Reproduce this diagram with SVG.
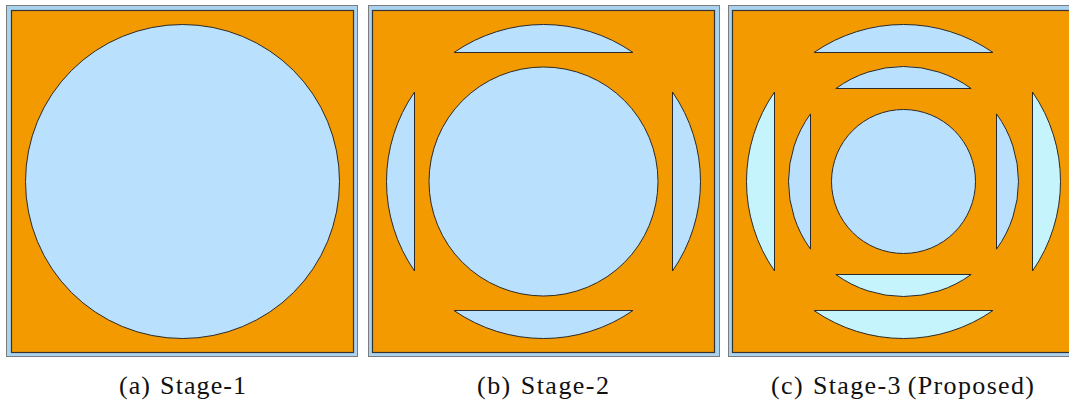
<svg xmlns="http://www.w3.org/2000/svg" xmlns:xlink="http://www.w3.org/1999/xlink" width="1069" height="406" viewBox="0 0 1069 406">
  <style>
    .frame { fill: #a9d3ee; stroke: #7c7c7c; stroke-width: 1; }
    .plate { fill: #f39a00; stroke: #333333; stroke-width: 1.2; }
    .cut { stroke: #2a2a2a; stroke-width: 1; }
    .blue { fill: #b9e0fc; }
    .cyan { fill: #c6f4fd; }
    .cap { font-family: "Liberation Serif", "DejaVu Serif", serif; font-size: 26px; fill: #111111; }
  </style>
  <defs>
    <!-- circular segments centred on the origin, chord on top side (pointing up) -->
    <path id="segOuter" d="M-89.49,-129 A157,157 0 0 1 89.49,-129 Z"/>
    <path id="segMid" d="M-67.65,-93 A115,115 0 0 1 67.65,-93 Z"/>
  </defs>

  <!-- Stage 1: single circular cut-out -->
  <g id="stage1">
    <rect class="frame" x="6.5" y="5.5" width="351" height="351"/>
    <rect class="plate" x="11.5" y="10.5" width="342" height="342"/>
    <circle class="cut blue" cx="182.5" cy="181.5" r="157"/>
  </g>

  <!-- Stage 2: centre disc plus four outer segments -->
  <g id="stage2">
    <rect class="frame" x="368.5" y="5.5" width="351" height="351"/>
    <rect class="plate" x="372.5" y="10.5" width="342" height="342"/>
    <g transform="translate(543.5,181.5)">
      <circle class="cut blue" r="114.5"/>
      <use xlink:href="#segOuter" class="cut blue"/>
      <use xlink:href="#segOuter" class="cut blue" transform="rotate(90)"/>
      <use xlink:href="#segOuter" class="cut blue" transform="rotate(180)"/>
      <use xlink:href="#segOuter" class="cut blue" transform="rotate(270)"/>
    </g>
  </g>

  <!-- Stage 3: centre disc, middle ring segments, outer ring segments -->
  <g id="stage3">
    <rect class="frame" x="728.5" y="5.5" width="351" height="351"/>
    <rect class="plate" x="732.5" y="10.5" width="342" height="342"/>
    <g transform="translate(903.5,181.5)">
      <circle class="cut blue" r="72"/>
      <use xlink:href="#segMid" class="cut blue"/>
      <use xlink:href="#segMid" class="cut blue" transform="rotate(90)"/>
      <use xlink:href="#segMid" class="cut cyan" transform="rotate(180)"/>
      <use xlink:href="#segMid" class="cut blue" transform="rotate(270)"/>
      <use xlink:href="#segOuter" class="cut blue"/>
      <use xlink:href="#segOuter" class="cut cyan" transform="rotate(90)"/>
      <use xlink:href="#segOuter" class="cut cyan" transform="rotate(180)"/>
      <use xlink:href="#segOuter" class="cut cyan" transform="rotate(270)"/>
    </g>
  </g>

  <!-- captions -->
  <g id="captions">
    <text class="cap" x="119" y="394" textLength="127" lengthAdjust="spacing">(a)<tspan dx="9">Stage-1</tspan></text>
    <text class="cap" x="477" y="394" textLength="132" lengthAdjust="spacing">(b)<tspan dx="9">Stage-2</tspan></text>
    <text class="cap" x="771" y="394" textLength="263" lengthAdjust="spacing">(c)<tspan dx="9">Stage-3</tspan><tspan dx="6">(Proposed)</tspan></text>
  </g>
</svg>
